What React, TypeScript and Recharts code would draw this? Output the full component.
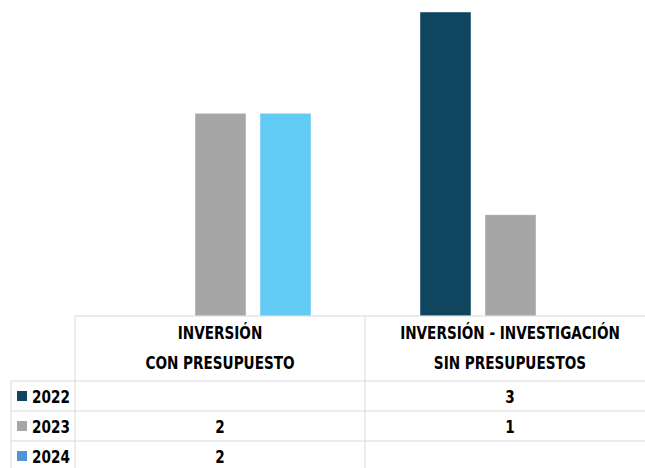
import React from "react";
import { BarChart, Bar, XAxis, YAxis } from "recharts";

// categories (two header lines each), series and values
const categories = [
  ["INVERSIÓN", "CON PRESUPUESTO"],
  ["INVERSIÓN - INVESTIGACIÓN", "SIN PRESUPUESTOS"],
];
const years = ["2022", "2023", "2024"];
const values2022: (number | null)[] = [null, 3];
const values2023: (number | null)[] = [2, 1];
const values2024: (number | null)[] = [2, null];
const barColors = ["#10455f", "#a6a6a6", "#61cbf3"];
const legendColors = ["#10455f", "#a6a6a6", "#4e95d9"];

const seriesValues = [values2022, values2023, values2024];
const data = categories.map((c, i) => ({
  name: c.join(" "),
  y2022: values2022[i],
  y2023: values2023[i],
  y2024: values2024[i],
}));

const W = 655;
const H = 468;
const LEFT = 75;
const BAND = (W - LEFT) / categories.length;
const FONT = "'DejaVu Sans Condensed', 'DejaVu Sans', sans-serif";
const GRID = "#d9d9d9";
const HEADER_H = 65;
const ROW_H = 30;
const SQUEEZE = 0.89;

// narrow bold label, squeezed horizontally to look like the original condensed face
function Label({ x, y, anchor = "middle", children }: any) {
  return (
    <g transform={`translate(${x},${y}) scale(${SQUEEZE},1)`}>
      <text x={0} y={0} textAnchor={anchor} dominantBaseline="central" fontSize={17} fontWeight="bold" fill="#000" style={{ fontFamily: FONT, fontStretch: "condensed" }}>
        {children}
      </text>
    </g>
  );
}

function TableTick(props: any) {
  const { x, y, payload } = props;
  const i = payload.index;
  const left = x - BAND / 2;
  const rowTop = y + HEADER_H;
  const [l1, l2] = categories[i];
  return (
    <g>
      <line x1={left} x2={left} y1={y} y2={H} stroke={GRID} />
      {i === 0 && (
        <g>
          <line x1={11} x2={11} y1={rowTop} y2={H} stroke={GRID} />
          {years.map((yr, r) => (
            <g key={yr}>
              <line x1={11} x2={W} y1={rowTop + r * ROW_H} y2={rowTop + r * ROW_H} stroke={GRID} />
              <rect x={17} y={rowTop + r * ROW_H + 10} width={10} height={10} fill={legendColors[r]} />
              <Label x={32} y={rowTop + r * ROW_H + ROW_H / 2 + 1} anchor="start">{yr}</Label>
            </g>
          ))}
        </g>
      )}
      <Label x={x} y={y + 17}>{l1}</Label>
      <Label x={x} y={y + 47}>{l2}</Label>
      {seriesValues.map((vals, r) =>
        vals[i] == null ? null : (
          <Label key={r} x={x} y={rowTop + r * ROW_H + ROW_H / 2 + 1}>{vals[i]}</Label>
        )
      )}
    </g>
  );
}

export default function App() {
  return (
    <div style={{ position: "absolute", left: 0, top: 0, width: 645, height: 468, overflow: "hidden", background: "#fff" }}>
      <BarChart width={W} height={H} data={data} margin={{ top: 12, right: 0, left: LEFT, bottom: 0 }} barSize={51} barGap={14}>
        <XAxis
          dataKey="name"
          height={H - 316}
          axisLine={{ stroke: GRID }}
          tickLine={false}
          tickSize={0}
          tickMargin={0}
          interval={0}
          tick={<TableTick />}
        />
        <YAxis hide domain={[0, 3]} />
        {years.map((yr, r) => (
          <Bar key={yr} dataKey={`y${yr}`} fill={barColors[r]} stroke="#ffffff" strokeOpacity={0.45} isAnimationActive={false} />
        ))}
      </BarChart>
    </div>
  );
}
